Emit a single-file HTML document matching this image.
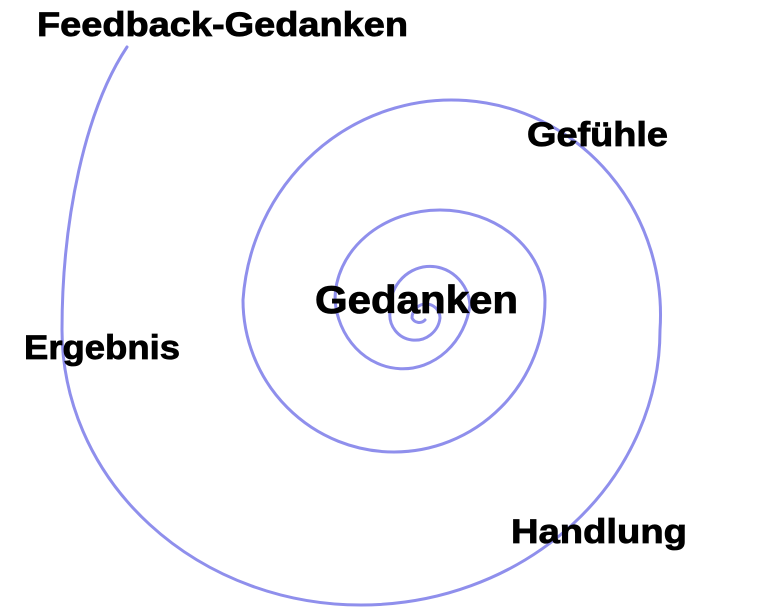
<!DOCTYPE html>
<html><head><meta charset="utf-8"><style>
html,body{margin:0;padding:0;background:#fff;width:768px;height:609px;overflow:hidden}
</style></head><body>
<svg width="768" height="609" viewBox="0 0 768 609" xmlns="http://www.w3.org/2000/svg">
<path d="M127,47 C85,110 62,220 62,330 A299 275 0 0 0 660 330 A209 215 0 0 0 243 300 A151 152 0 0 0 545 300 A105 90 0 0 0 335 300 A68 75 0 0 0 470 305 A40 42 0 0 0 390 312 A25 25 0 0 0 440 318 A14 14 0 0 0 412 318 A8 8 0 0 0 425 320" fill="none" stroke="#8f8fec" stroke-width="3" stroke-linecap="round"/>
<g font-family="Liberation Sans, sans-serif" font-weight="bold" fill="#000" stroke="#000" stroke-width="0.8">
<text x="37" y="36" font-size="34" textLength="371" lengthAdjust="spacingAndGlyphs">Feedback-Gedanken</text>
<text x="527" y="146" font-size="34" textLength="141" lengthAdjust="spacingAndGlyphs">Gefühle</text>
<text x="315" y="313" font-size="39" textLength="203" lengthAdjust="spacingAndGlyphs">Gedanken</text>
<text x="24" y="359" font-size="34" textLength="156" lengthAdjust="spacingAndGlyphs">Ergebnis</text>
<text x="511" y="543" font-size="34" textLength="176" lengthAdjust="spacingAndGlyphs">Handlung</text>
</g>
</svg>
</body></html>
